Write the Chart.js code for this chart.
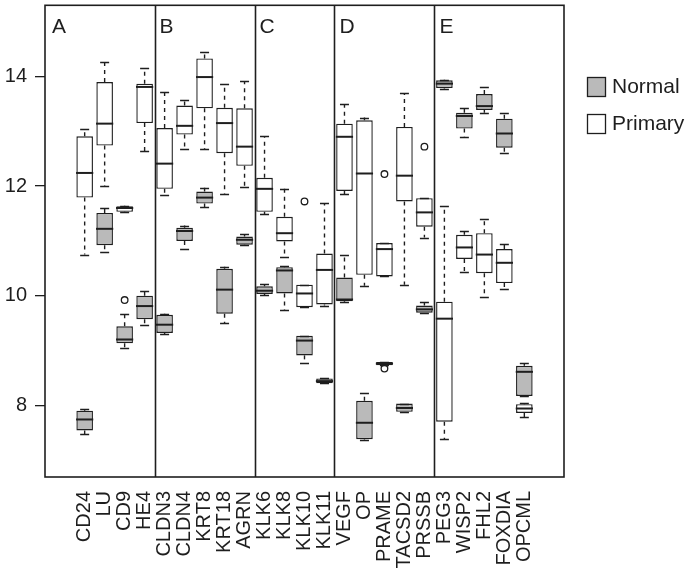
<!DOCTYPE html>
<html>
<head>
<meta charset="utf-8">
<script src="https://cdn.jsdelivr.net/npm/chart.js@4.4.0/dist/chart.umd.min.js"></script>
<style>
  html, body { margin: 0; padding: 0; background: #fff; }
  #wrap { width: 685px; height: 576px; }
</style>
</head>
<body>
<div id="wrap"><canvas id="chart" width="685" height="576"></canvas></div>
<script>
const genes = ['CD24', 'LU', 'CD9', 'HE4', 'CLDN3', 'CLDN4', 'KRT8', 'KRT18', 'AGRN',
  'KLK6', 'KLK8', 'KLK10', 'KLK11', 'VEGF', 'OP', 'PRAME', 'TACSD2', 'PRSSB',
  'PEG3', 'WISP2', 'FHL2', 'FOXDIA', 'OPCML'];
const panelLetters = ['A', 'B', 'C', 'D', 'E'];
const panelBreaks = [4.5, 9.5, 13.5, 18.5];
const yTicks = [8, 10, 12, 14];

// Normal tissue boxes
const normalLow = [7.47, 10.79, 9.05, 9.46, 9.30, 10.85, 11.61, 9.50, 10.92, 10.01, 9.74, 8.77, 8.40, 9.88, 7.37, 8.73, 7.88, 9.69, 13.78, 12.90, 13.34, 12.60, 8.17];
const normalQ1 = [7.54, 10.92, 9.13, 9.57, 9.32, 11.00, 11.68, 9.67, 10.93, 10.03, 10.04, 8.91, 8.40, 9.90, 7.38, 8.73, 7.88, 9.69, 13.79, 13.05, 13.39, 12.70, 8.17];
const normalMed = [7.74, 11.22, 9.20, 9.81, 9.47, 11.18, 11.79, 10.11, 11.02, 10.09, 10.46, 9.18, 8.44, 9.93, 7.68, 8.76, 7.95, 9.75, 13.87, 13.28, 13.46, 12.96, 8.61];
const normalQ3 = [7.90, 11.51, 9.44, 10.00, 9.65, 11.24, 11.90, 10.49, 11.08, 10.17, 10.52, 9.27, 8.49, 10.33, 8.08, 8.79, 8.03, 9.82, 13.93, 13.34, 13.68, 13.23, 8.72];
const normalHigh = [7.93, 11.60, 9.67, 10.08, 9.67, 11.28, 11.97, 10.53, 11.12, 10.21, 10.54, 9.27, 8.49, 10.75, 8.22, 8.79, 8.03, 9.88, 13.94, 13.42, 13.81, 13.34, 8.77];
const normalOutliers = { CD9: [9.92], KLK10: [9.02], PRAME: [8.67] };

// Primary tumour boxes
const primaryLow = [10.75, 12.00, 11.52, 12.64, 11.84, 12.67, 12.67, 11.86, 11.99, 11.49, 10.70, 9.79, 9.82, 11.85, 10.18, 10.35, 10.20, 11.06, 7.38, 10.43, 9.98, 10.12, 7.78];
const primaryQ1 = [11.79, 12.74, 11.53, 13.15, 11.95, 12.94, 13.42, 12.60, 12.37, 11.53, 10.99, 9.79, 9.84, 11.91, 10.38, 10.35, 11.72, 11.26, 7.70, 10.67, 10.41, 10.23, 7.86];
const primaryMed = [12.24, 13.14, 11.60, 13.81, 12.41, 13.10, 13.99, 13.15, 12.72, 11.95, 11.14, 10.04, 10.47, 12.90, 12.23, 10.85, 12.19, 11.52, 9.58, 10.88, 10.75, 10.60, 7.94];
const primaryQ3 = [12.91, 13.90, 11.63, 13.87, 13.06, 13.47, 14.33, 13.43, 13.42, 12.15, 11.44, 10.20, 10.77, 13.14, 13.20, 10.96, 13.08, 11.78, 9.89, 11.11, 11.14, 10.85, 8.02];
const primaryHigh = [13.05, 14.27, 11.64, 14.16, 13.72, 13.57, 14.44, 13.87, 13.91, 12.91, 11.95, 10.20, 11.69, 13.49, 13.25, 10.96, 13.70, 11.78, 11.64, 11.18, 11.40, 10.94, 8.04];
const primaryOutliers = { KLK10: [11.72], PRAME: [12.22], PRSSB: [12.72] };

const FONT = '"Liberation Sans", Arial, Helvetica, sans-serif';
const INK = '#1e1e1e';
const NORMAL_FILL = '#bababa';

function boxData(q1, q3) {
  return genes.map((g, i) => ({ x: i + 1, y: [q1[i], q3[i]] }));
}
function outlierData(map) {
  const pts = [];
  Object.keys(map).forEach(g => map[g].forEach(v => pts.push({ x: genes.indexOf(g) + 1, y: v })));
  return pts;
}

const boxParts = {
  id: 'boxParts',
  afterDatasetsDraw(chart) {
    const { ctx, scales: { x, y } } = chart;
    const half = 8.6, cap = 4.5;
    const series = [
      [normalLow, normalQ1, normalMed, normalQ3, normalHigh],
      [primaryLow, primaryQ1, primaryMed, primaryQ3, primaryHigh]
    ];
    ctx.save();
    ctx.strokeStyle = INK;
    series.forEach(([lo, q1, med, q3, hi]) => {
      genes.forEach((g, i) => {
        const px = x.getPixelForValue(i + 1);
        // whiskers
        ctx.lineWidth = 1.4;
        ctx.setLineDash([4, 4]);
        ctx.beginPath();
        if (hi[i] > q3[i]) { ctx.moveTo(px, y.getPixelForValue(q3[i])); ctx.lineTo(px, y.getPixelForValue(hi[i])); }
        if (lo[i] < q1[i]) { ctx.moveTo(px, y.getPixelForValue(q1[i])); ctx.lineTo(px, y.getPixelForValue(lo[i])); }
        ctx.stroke();
        ctx.setLineDash([]);
        ctx.lineWidth = 1.6;
        ctx.beginPath();
        [hi[i], lo[i]].forEach(v => {
          const py = Math.round(y.getPixelForValue(v)) + 0.5;
          ctx.moveTo(px - cap, py); ctx.lineTo(px + cap, py);
        });
        ctx.stroke();
        // median
        ctx.lineWidth = 2;
        ctx.beginPath();
        const my = y.getPixelForValue(med[i]);
        ctx.moveTo(px - half, my); ctx.lineTo(px + half, my);
        ctx.stroke();
      });
    });
    ctx.restore();
  },
  afterDraw(chart) {
    const { ctx, chartArea: a, scales: { x } } = chart;
    ctx.save();
    ctx.strokeStyle = INK;
    ctx.lineWidth = 1.6;
    ctx.strokeRect(a.left, a.top, a.right - a.left, a.bottom - a.top);
    ctx.beginPath();
    panelBreaks.forEach(b => {
      const px = Math.round(x.getPixelForValue(b)) + 0.5;
      ctx.moveTo(px, a.top); ctx.lineTo(px, a.bottom);
    });
    ctx.stroke();
    // panel letters
    ctx.fillStyle = INK;
    ctx.font = '21px ' + FONT;
    ctx.textBaseline = 'top';
    ctx.textAlign = 'left';
    const starts = [a.left + 7].concat(panelBreaks.map(b => x.getPixelForValue(b) + 5));
    panelLetters.forEach((l, i) => ctx.fillText(l, starts[i], a.top + 11));
    // legend
    const items = [['Normal', NORMAL_FILL], ['Primary', '#fff']];
    ctx.font = '21px ' + FONT;
    ctx.textBaseline = 'middle';
    items.forEach(([label, fill], i) => {
      const top = 77 + i * 37;
      ctx.fillStyle = fill;
      ctx.fillRect(587, top, 18, 19);
      ctx.lineWidth = 1.3;
      ctx.strokeRect(587.5, top + 0.5, 18, 19);
      ctx.fillStyle = INK;
      ctx.fillText(label, 612, top + 10);
    });
    ctx.restore();
  }
};

new Chart(document.getElementById('chart'), {
  type: 'bar',
  data: {
    datasets: [
      {
        label: 'Normal',
        data: boxData(normalQ1, normalQ3),
        backgroundColor: NORMAL_FILL,
        borderColor: INK,
        borderWidth: 1.4,
        borderSkipped: false,
        grouped: false,
        barPercentage: 0.83,
        categoryPercentage: 1
      },
      {
        label: 'Primary',
        data: boxData(primaryQ1, primaryQ3),
        backgroundColor: '#fff',
        borderColor: INK,
        borderWidth: 1.4,
        borderSkipped: false,
        grouped: false,
        barPercentage: 0.83,
        categoryPercentage: 1
      },
      {
        type: 'scatter',
        label: 'Normal outliers',
        data: outlierData(normalOutliers),
        pointStyle: 'circle',
        pointRadius: 3.3,
        backgroundColor: 'rgba(255,255,255,0)',
        borderColor: INK,
        borderWidth: 1.3
      },
      {
        type: 'scatter',
        label: 'Primary outliers',
        data: outlierData(primaryOutliers),
        pointStyle: 'circle',
        pointRadius: 3.3,
        backgroundColor: '#fff',
        borderColor: INK,
        borderWidth: 1.3
      }
    ]
  },
  options: {
    responsive: false,
    animation: false,
    layout: { padding: { top: 4, right: 121, left: 0, bottom: 0 } },
    plugins: { legend: { display: false }, tooltip: { enabled: false } },
    scales: {
      x: {
        type: 'linear',
        min: -0.42,
        max: 24.42,
        afterBuildTicks: axis => { axis.ticks = genes.map((g, i) => ({ value: i + 1 })); },
        afterFit: axis => { axis.height = 99; axis.paddingLeft = 0; axis.paddingRight = 0; },
        grid: { display: false },
        border: { display: false },
        ticks: {
          autoSkip: false,
          minRotation: 90,
          maxRotation: 90,
          padding: 6,
          color: INK,
          font: { family: FONT, size: 20 },
          callback: v => genes[v - 1]
        }
      },
      y: {
        min: 6.69,
        max: 15.30,
        afterBuildTicks: axis => { axis.ticks = yTicks.map(v => ({ value: v })); },
        afterFit: axis => { axis.width = 45; axis.paddingTop = 0; axis.paddingBottom = 0; },
        grid: { drawOnChartArea: false, drawTicks: true, tickLength: 10, color: INK, lineWidth: 1.3 },
        border: { display: false },
        ticks: {
          padding: 8,
          color: INK,
          font: { family: FONT, size: 20 }
        }
      }
    }
  },
  plugins: [boxParts]
});
</script>
</body>
</html>
